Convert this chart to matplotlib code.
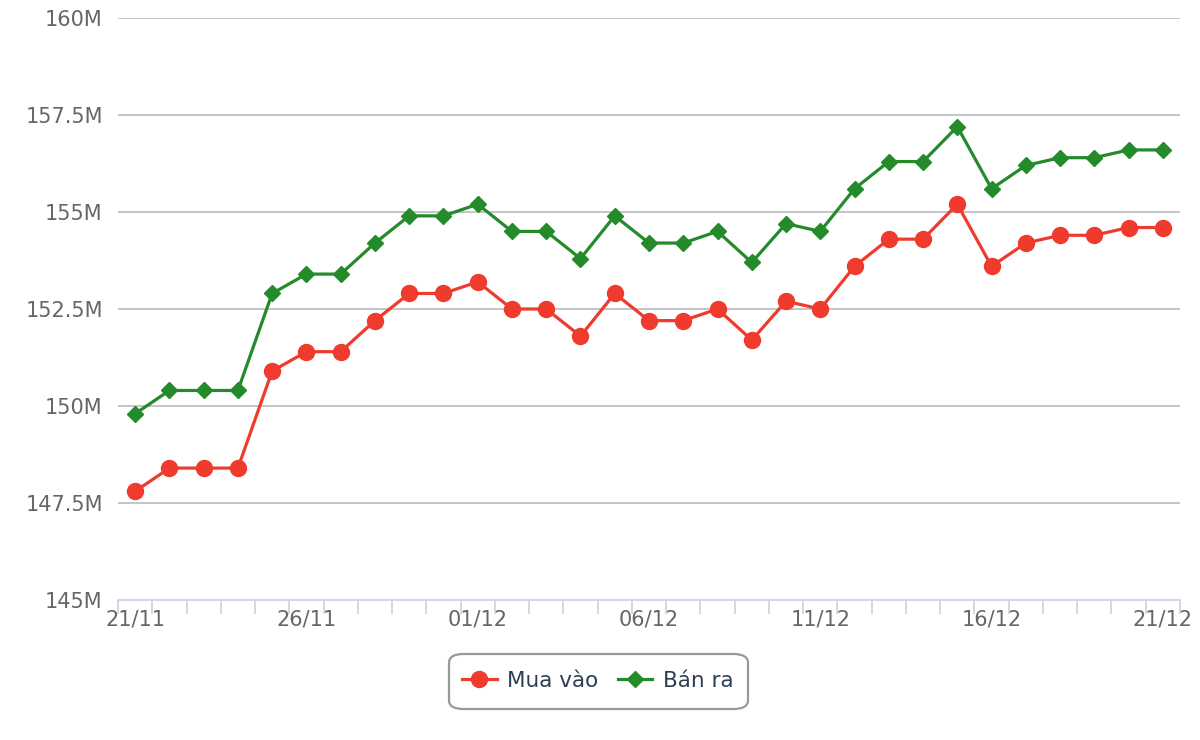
import numpy as np
import matplotlib
matplotlib.use("Agg")
import matplotlib.pyplot as plt
from matplotlib.patches import FancyBboxPatch

# dates 21/11 -> 21/12
days = ['21/11', '22/11', '23/11', '24/11', '25/11', '26/11', '27/11', '28/11',
        '29/11', '30/11', '01/12', '02/12', '03/12', '04/12', '05/12', '06/12',
        '07/12', '08/12', '09/12', '10/12', '11/12', '12/12', '13/12', '14/12',
        '15/12', '16/12', '17/12', '18/12', '19/12', '20/12', '21/12']

# millions
mua_vao = [147.8, 148.4, 148.4, 148.4, 150.9, 151.4, 151.4, 152.2, 152.9, 152.9,
           153.2, 152.5, 152.5, 151.8, 152.9, 152.2, 152.2, 152.5, 151.7, 152.7,
           152.5, 153.6, 154.3, 154.3, 155.2, 153.6, 154.2, 154.4, 154.4, 154.6,
           154.6]
ban_ra = [149.8, 150.4, 150.4, 150.4, 152.9, 153.4, 153.4, 154.2, 154.9, 154.9,
          155.2, 154.5, 154.5, 153.8, 154.9, 154.2, 154.2, 154.5, 153.7, 154.7,
          154.5, 155.6, 156.3, 156.3, 157.2, 155.6, 156.2, 156.4, 156.4, 156.6,
          156.6]

y_ticks = [145, 147.5, 150, 152.5, 155, 157.5, 160]
y_labels = ['145M', '147.5M', '150M', '152.5M', '155M', '157.5M', '160M']

red = '#ef3b2d'
green = '#238b2a'
txt = '#666666'
axis_col = '#ccd6eb'

fig = plt.figure(figsize=(12, 7.4), dpi=100)
ax = fig.add_axes([118/1200, 1 - 600/740, (1180-118)/1200, (600-18)/740])

x = np.arange(len(days))
ax.plot(x, ban_ra, color=green, lw=2.3, marker='D', ms=8.5, zorder=3, label='Bán ra')
ax.plot(x, mua_vao, color=red, lw=2.3, marker='o', ms=11.5, zorder=4, label='Mua vào')

ax.set_xlim(-0.5, len(days) - 0.5)
ax.set_ylim(145, 160)

for v in y_ticks[1:]:
    ax.axhline(v, color='#c0c0c0', lw=1.3, zorder=1)

ax.set_yticks(y_ticks)
ax.set_yticklabels(y_labels)
ax.tick_params(axis='y', length=0, pad=11, labelsize=15, labelcolor=txt)

ax.set_xticks(x[::5])
ax.set_xticklabels(days[::5])
ax.set_xticks(np.arange(-0.5, len(days)), minor=True)
ax.tick_params(axis='x', which='major', length=0, pad=7, labelsize=15, labelcolor=txt)
ax.tick_params(axis='x', which='minor', length=10, width=1.3, color=axis_col)

for s in ['top', 'right', 'left']:
    ax.spines[s].set_visible(False)
ax.spines['bottom'].set_color(axis_col)
ax.spines['bottom'].set_linewidth(1.3)

# legend box
box = FancyBboxPatch((449/1200, 1 - 709/740), (748-449)/1200, (709-654)/740,
                     boxstyle='round,pad=0,rounding_size=0.012',
                     transform=fig.transFigure, facecolor='white',
                     edgecolor='#999999', lw=1.6)
fig.patches.append(box)
h, l = ax.get_legend_handles_labels()
leg = fig.legend([h[1], h[0]], [l[1], l[0]], loc='center', bbox_to_anchor=(598/1200, 1 - 681/740),
                 ncol=2, frameon=False, fontsize=15.5, handlelength=1.6, columnspacing=0.9,
                 handletextpad=0.5)
for t in leg.get_texts():
    t.set_color('#2b3e55')

fig.savefig('out.png', dpi=100)
